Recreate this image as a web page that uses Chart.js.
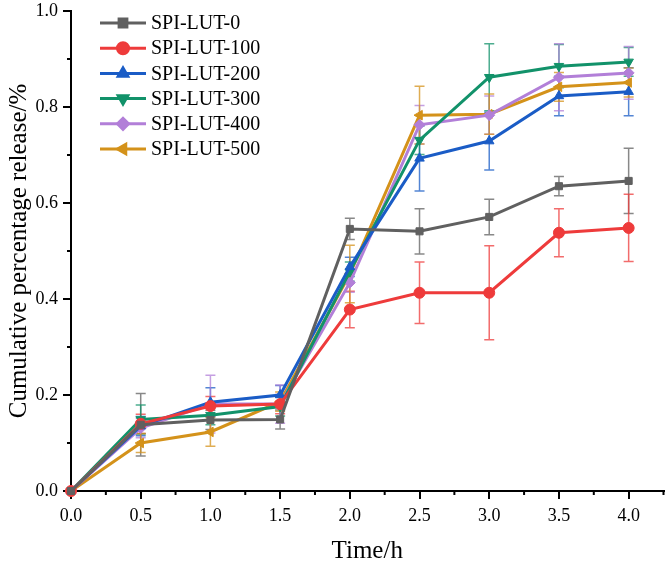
<!DOCTYPE html>
<html>
<head>
<meta charset="utf-8">
<script src="https://cdn.jsdelivr.net/npm/chart.js@4"></script>
<style>
  html, body { margin: 0; padding: 0; background: #fff; }
  #wrap { width: 670px; height: 570px; }
</style>
</head>
<body>
<div id="wrap"><canvas id="releaseChart" width="670" height="570"></canvas></div>
<script>
// time points (h)
const times = [0, 0.5, 1.0, 1.5, 2.0, 2.5, 3.0, 3.5, 4.0];
const xTickValues = [0, 0.5, 1.0, 1.5, 2.0, 2.5, 3.0, 3.5, 4.0];

// cumulative release and error
const lut0 = [0, 0.138, 0.148, 0.149, 0.546, 0.541, 0.571, 0.635, 0.646];
const lut0Err = [0, 0.065, 0.02, 0.02, 0.022, 0.047, 0.037, 0.02, 0.068];
const lut100 = [0, 0.140, 0.177, 0.181, 0.378, 0.413, 0.413, 0.538, 0.548];
const lut100Err = [0, 0.02, 0.02, 0.02, 0.038, 0.064, 0.098, 0.05, 0.07];
const lut200 = [0, 0.135, 0.185, 0.200, 0.467, 0.693, 0.729, 0.823, 0.832];
const lut200Err = [0, 0.02, 0.03, 0.02, 0.02, 0.068, 0.06, 0.041, 0.05];
const lut300 = [0, 0.149, 0.158, 0.176, 0.457, 0.731, 0.862, 0.885, 0.894];
const lut300Err = [0, 0.03, 0.02, 0.02, 0.02, 0.03, 0.07, 0.045, 0.03];
const lut400 = [0, 0.131, 0.181, 0.181, 0.434, 0.763, 0.783, 0.862, 0.871];
const lut400Err = [0, 0.02, 0.06, 0.04, 0.02, 0.04, 0.04, 0.07, 0.055];
const lut500 = [0, 0.100, 0.123, 0.186, 0.452, 0.783, 0.785, 0.842, 0.851];
const lut500Err = [0, 0.02, 0.03, 0.02, 0.06, 0.06, 0.042, 0.03, 0.03];

const seriesNames = ['SPI-LUT-0', 'SPI-LUT-100', 'SPI-LUT-200', 'SPI-LUT-300', 'SPI-LUT-400', 'SPI-LUT-500'];
const seriesValues = [lut0, lut100, lut200, lut300, lut400, lut500];
const seriesErrors = [lut0Err, lut100Err, lut200Err, lut300Err, lut400Err, lut500Err];

const colors = ['#606060', '#ee3b3b', '#1a5cc6', '#12926a', '#b27fd8', '#d4921a'];
const shapes = ['rect', 'circle', 'triangle', 'triangle', 'rectRot', 'triangle'];
const rotations = [0, 0, 0, 180, 0, 270];

const FONT = '"Liberation Serif", "Times New Roman", serif';

function hexAlpha(hex, a) {
    let r = parseInt(hex.slice(1, 3), 16), g = parseInt(hex.slice(3, 5), 16), b = parseInt(hex.slice(5, 7), 16);
    return 'rgba(' + r + ',' + g + ',' + b + ',' + a + ')';
}

const datasets = seriesNames.map((name, i) => ({
    label: name,
    data: times.map((t, j) => ({ x: t, y: seriesValues[i][j] })),
    errors: seriesErrors[i],
    borderColor: colors[i],
    backgroundColor: colors[i],
    borderWidth: 3,
    pointStyle: shapes[i],
    pointRotation: rotations[i],
    pointRadius: shapes[i] === 'rect' ? 5 : 5.5,
    pointBorderWidth: 1,
    tension: 0,
    clip: false
}));

// error bars drawn with the chart's own scales
const errorBars = {
    id: 'errorBars',
    beforeDatasetsDraw(chart) {
        const ctx = chart.ctx;
        const yScale = chart.scales.y;
        chart.data.datasets.forEach((ds, i) => {
            const meta = chart.getDatasetMeta(i);
            ctx.save();
            ctx.strokeStyle = hexAlpha(colors[i], 0.75);
            ctx.lineWidth = 1.5;
            meta.data.forEach((pt, j) => {
                const err = ds.errors[j];
                if (!err) return;
                const v = ds.data[j].y;
                const top = yScale.getPixelForValue(v + err);
                const bot = yScale.getPixelForValue(v - err);
                ctx.beginPath();
                ctx.moveTo(pt.x, top); ctx.lineTo(pt.x, bot);
                ctx.moveTo(pt.x - 5, top); ctx.lineTo(pt.x + 5, top);
                ctx.moveTo(pt.x - 5, bot); ctx.lineTo(pt.x + 5, bot);
                ctx.stroke();
            });
            ctx.restore();
        });
    }
};

// minor ticks between the major ones
const minorTicks = {
    id: 'minorTicks',
    afterDraw(chart) {
        const ctx = chart.ctx;
        const xs = chart.scales.x, ys = chart.scales.y;
        ctx.save();
        ctx.strokeStyle = '#000';
        ctx.lineWidth = 2;
        ctx.beginPath();
        for (let v = 0.25; v <= 4.3; v += 0.5) {
            const px = xs.getPixelForValue(v);
            ctx.moveTo(px, xs.top); ctx.lineTo(px, xs.top + 4);
        }
        for (let v = 0.1; v < 1.0; v += 0.2) {
            const py = ys.getPixelForValue(v);
            ctx.moveTo(ys.right, py); ctx.lineTo(ys.right - 4, py);
        }
        ctx.stroke();
        ctx.restore();
    }
};

// legend with line + marker samples, placed inside the plot
const lineLegend = {
    id: 'lineLegend',
    afterDraw(chart) {
        const ctx = chart.ctx;
        ctx.save();
        chart.data.datasets.forEach((ds, i) => {
            const y = 23 + i * 25.2;
            ctx.strokeStyle = colors[i];
            ctx.lineWidth = 3;
            ctx.beginPath();
            ctx.moveTo(100, y); ctx.lineTo(146, y);
            ctx.stroke();
            Chart.helpers.drawPoint(ctx, {
                pointStyle: shapes[i], rotation: rotations[i],
                radius: 5.5, borderWidth: 1
            }, 123, y);
            ctx.fillStyle = colors[i];
            ctx.fill();
            ctx.fillStyle = '#000';
            ctx.font = '20px ' + FONT;
            ctx.textBaseline = 'middle';
            ctx.fillText(ds.label, 151, y + 1);
        });
        ctx.restore();
    }
};

Chart.defaults.font.family = FONT;
Chart.defaults.color = '#000';

new Chart(document.getElementById('releaseChart'), {
    type: 'line',
    data: { datasets: datasets },
    options: {
        responsive: false,
        animation: false,
        layout: { padding: { top: 11, right: 0, left: 0, bottom: 0 } },
        plugins: { legend: { display: false }, tooltip: { enabled: false } },
        scales: {
            x: {
                type: 'linear',
                min: 0, max: 4.25,
                afterBuildTicks(scale) {
                    scale.ticks = xTickValues.map(v => ({ value: v }));
                },
                afterFit(scale) { scale.height = 79; },
                ticks: {
                    font: { size: 18 },
                    padding: 6,
                    autoSkip: false,
                    maxRotation: 0,
                    callback: v => Number(v).toFixed(1)
                },
                grid: { drawOnChartArea: false, drawTicks: true, tickLength: 8, color: '#000', lineWidth: 2 },
                border: { display: true, color: '#000', width: 2 },
                title: { display: true, text: 'Time/h', font: { size: 25 }, padding: { top: 7 } }
            },
            y: {
                min: 0, max: 1.0,
                afterFit(scale) {
                    scale.width = 71;
                    scale.paddingTop = 0;
                    scale.paddingBottom = 0;
                },
                ticks: {
                    stepSize: 0.2,
                    font: { size: 18, lineHeight: 0.6 },
                    padding: 5,
                    callback: v => Number(v).toFixed(1)
                },
                grid: { drawOnChartArea: false, drawTicks: true, tickLength: 8, color: '#000', lineWidth: 2 },
                border: { display: true, color: '#000', width: 2 },
                title: { display: true, text: 'Cumulative percentage release/%', font: { size: 25 }, padding: { bottom: 0 } }
            }
        }
    },
    plugins: [errorBars, minorTicks, lineLegend]
});
</script>
</body>
</html>
